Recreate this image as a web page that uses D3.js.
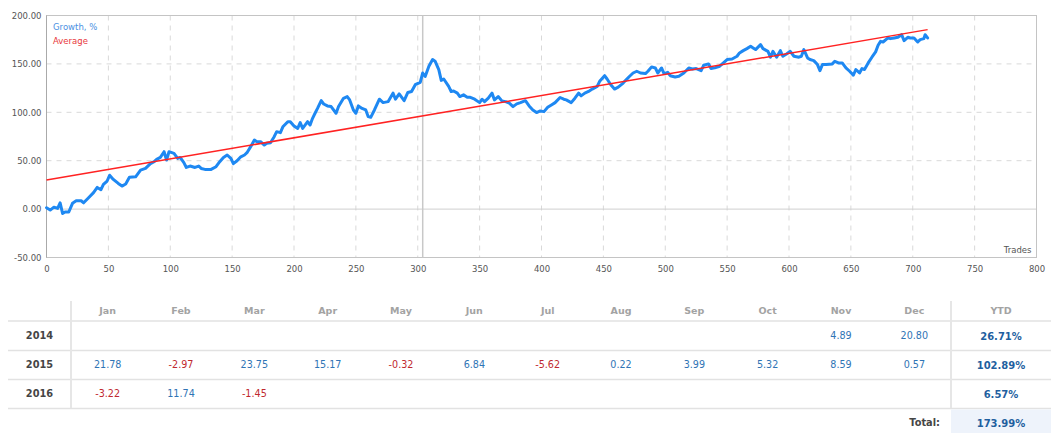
<!DOCTYPE html>
<html><head><meta charset="utf-8">
<script src="https://cdn.jsdelivr.net/npm/d3@7"></script>
<style>
html,body{margin:0;padding:0;background:#fff;}
svg{display:block;font-family:"DejaVu Sans",Verdana,sans-serif;}
</style></head>
<body>
<svg id="c" width="1051" height="433"></svg>
<script>
// ---- data ----
const trades = [0,3,6,9,11,13,15,18,21,24,28,30,34,38,41,44,46,49,51,54,58,61,64,67,72,76,80,84,87,89,92,95,97,99,103,106,108,111,113,116,120,123,125,128,133,137,140,143,146,149,151,154,157,160,162,165,168,170,173,176,178,181,184,186,189,191,195,197,200,203,205,207,211,213,215,217,219,222,224,227,230,234,236,240,243,245,248,250,252,255,258,260,262,265,269,272,276,280,282,285,289,292,295,298,302,304,306,309,312,314,317,319,321,325,327,329,332,334,337,340,342,346,350,352,354,357,360,362,365,368,371,374,377,380,383,387,390,393,396,399,402,405,408,411,415,418,420,424,427,430,432,435,438,441,445,447,451,453,456,459,462,466,468,471,474,477,480,484,486,489,492,494,497,499,502,504,508,511,515,519,522,525,529,531,535,537,540,544,547,550,554,558,560,563,566,569,571,573,577,579,583,585,587,590,593,595,598,601,604,608,610,612,615,617,620,623,625,627,630,635,637,640,643,646,649,652,654,657,659,661,664,667,670,672,674,676,680,682,685,688,691,693,696,698,701,704,706,709,710,712];
const growth = [1.4,-1,2,0.7,6.5,-4.5,-3,-3,6,8.6,8.6,6.5,11.7,17,22.4,20,25.5,29,35,30.7,26.5,23.8,25.9,32.8,33.4,40.3,42,47,49,51.4,53.4,59.3,50.7,59.3,57.6,52.4,53.4,48,43,44.5,43,44.5,42,41,41,43.8,49,53.4,55.9,52.4,47,50,54,55.9,58.3,64.5,71.4,69.7,69.7,66.2,68,68.6,74.8,80,79,85,90.3,90.3,85.9,83.4,89.3,83.4,90.3,86.9,93.8,99,104,112,108.6,106.6,105.9,99,105.9,114.5,116.2,112.8,102.4,99,106.6,104,102.4,95.5,94.8,102.4,113.5,110,111,119.8,113.5,119,112,120.5,121.5,128.5,131,140.6,137,147.6,154.5,152.8,144,133,134.4,126.7,121.5,122,119.8,116.3,118,115.6,115.6,113.5,110,113.5,111,114.6,119.8,112.8,116.3,111.8,111,109.4,105.9,108.7,110,112,106.6,102.4,99.7,101.4,100.7,105.2,107.6,110,115.3,113.5,112.8,110,114.6,119.8,117,119.8,121.5,124,126.7,132,137.8,134.4,128.5,124,126,130.2,133,137,140.6,142.4,140.6,140,142.4,146.9,145.8,140.6,145.8,140,141.3,137.8,136.5,137.2,140.6,145.8,144.8,145.2,143,148.6,150,145.2,145.9,147.6,151,154.5,155.1,157.9,161.3,163.7,165.8,168.2,166.5,164.8,169.9,165.8,163,156.9,163,156.9,163.7,157.9,160.3,163,157.9,156.9,157.9,164.8,156.2,154.5,153.4,149.3,143.1,149.3,149.3,150,152.7,151,151,145.9,142.4,138.3,144.2,140.7,145.2,144.2,151,156.9,162.4,169.2,173.3,172.6,176.8,176.1,176.8,177.5,180.2,174,177.5,176.8,176.8,172.6,175.1,176.1,180.2,176.8];
const averageTrades = [0, 712];
const averageValues = [30, 185.4];
const markerTrade = 304;
const xTicks = [0,50,100,150,200,250,300,350,400,450,500,550,600,650,700,750,800];
const yTicks = [-50,0,50,100,150,200];
const seriesNames = ["Growth, %","Average"];
const xAxisTitle = "Trades";

const months = ["Jan","Feb","Mar","Apr","May","Jun","Jul","Aug","Sep","Oct","Nov","Dec"];
const years = ["2014","2015","2016"];
const values2014 = [null,null,null,null,null,null,null,null,null,null,4.89,20.80];
const values2015 = [21.78,-2.97,23.75,15.17,-0.32,6.84,-5.62,0.22,3.99,5.32,8.59,0.57];
const values2016 = [-3.22,11.74,-1.45,null,null,null,null,null,null,null,null,null];
const ytd = [26.71,102.89,6.57];
const totalLabel = "Total:";
const totalValue = 173.99;

// ---- chart ----
const fmt2 = d => (+d).toFixed(2);
const svg = d3.select("#c");
const x = d3.scaleLinear().domain([0,800]).range([46.5,1036.5]);
const y = d3.scaleLinear().domain([-50,200]).range([257.5,15.5]);
const fs = 8.5;

const g = svg.append("g");
// grid
g.append("g").selectAll("line").data(xTicks.filter(t=>t>0&&t<800)).join("line")
  .attr("x1",d=>x(d)).attr("x2",d=>x(d)).attr("y1",y(200)).attr("y2",y(-50))
  .attr("stroke","#d9d9d9").attr("stroke-dasharray","5,5");
g.append("g").selectAll("line").data(yTicks.filter(t=>t!==0&&t!==-50&&t!==200)).join("line")
  .attr("x1",x(0)).attr("x2",x(800)).attr("y1",d=>y(d)).attr("y2",d=>y(d))
  .attr("stroke","#d9d9d9").attr("stroke-dasharray","5,5");
// zero line
g.append("line").attr("x1",x(0)).attr("x2",x(800)).attr("y1",y(0)).attr("y2",y(0))
  .attr("stroke","#cfcfcf").attr("stroke-width",1);
// border
g.append("rect").attr("x",x(0)).attr("y",y(200)).attr("width",x(800)-x(0)).attr("height",y(-50)-y(200))
  .attr("fill","none").attr("stroke","#c4c4c4");
g.append("line").attr("x1",x(0)).attr("x2",x(0)).attr("y1",y(200)).attr("y2",y(-50)).attr("stroke","#aaa");
// marker line
g.append("line").attr("x1",x(markerTrade)).attr("x2",x(markerTrade)).attr("y1",y(200)).attr("y2",y(-50))
  .attr("stroke","#c8c8c8").attr("stroke-width",1.5);

// axes
const yAxis = d3.axisLeft(y).tickValues(yTicks).tickFormat(fmt2).tickSize(0).tickPadding(5);
const ya = g.append("g").attr("transform",`translate(${x(0)},0)`).call(yAxis);
ya.select(".domain").remove();
ya.selectAll("text").attr("font-size",fs).attr("fill","#555").attr("font-family","DejaVu Sans");
const xAxis = d3.axisBottom(x).tickValues(xTicks).tickFormat(d=>String(d)).tickSize(0).tickPadding(8);
const xa = g.append("g").attr("transform",`translate(0,${y(-50)})`).call(xAxis);
xa.select(".domain").remove();
xa.selectAll("text").attr("font-size",fs).attr("fill","#555").attr("font-family","DejaVu Sans");

// series
const pts = trades.map((t,i)=>[t,growth[i]]);
const line = d3.line().x(d=>x(d[0])).y(d=>y(d[1]));
g.append("path").attr("d",line(pts)).attr("fill","none").attr("stroke","#1e88f2")
  .attr("stroke-width",3).attr("stroke-linejoin","round").attr("stroke-linecap","round");
g.append("path").attr("d",line(averageTrades.map((t,i)=>[t,averageValues[i]])))
  .attr("fill","none").attr("stroke","#ff2222").attr("stroke-width",1.5);

// legend
g.append("text").attr("x",53).attr("y",30).attr("font-size",fs).attr("fill","#4a90e2").text(seriesNames[0]);
g.append("text").attr("x",53).attr("y",44).attr("font-size",fs).attr("fill","#e8383d").text(seriesNames[1]);
g.append("text").attr("x",x(800)-5).attr("y",y(-50)-5).attr("text-anchor","end")
  .attr("font-size",fs).attr("fill","#555").text(xAxisTitle);

// ---- table ----
const t = svg.append("g");
const col = d3.scaleBand().domain(months).range([71,951]);
const rowLines = [321,350.5,379.5,408.5];
t.selectAll("line.h").data(rowLines).join("line").attr("class","h")
  .attr("x1",8).attr("x2",1051).attr("y1",d=>d).attr("y2",d=>d).attr("stroke","#e2e2e2").attr("stroke-width",1.5);
[71,951].forEach(vx=>{
  t.append("line").attr("x1",vx).attr("x2",vx).attr("y1",301).attr("y2",408).attr("stroke","#e6e6e6").attr("stroke-width",2);
});
t.append("rect").attr("x",951).attr("y",409.5).attr("width",100).attr("height",24).attr("fill","#eef3fb");

const cy = {head:311, "2014":336, "2015":365, "2016":394, total:423};
t.selectAll("text.m").data(months).join("text").attr("class","m")
  .attr("x",d=>col(d)+col.bandwidth()/2).attr("y",cy.head).attr("dy","0.35em")
  .attr("text-anchor","middle").attr("font-size",9.5).attr("font-weight","bold").attr("fill","#a3a3a3").text(d=>d);
t.append("text").attr("x",1001).attr("y",cy.head).attr("dy","0.35em").attr("text-anchor","middle")
  .attr("font-size",9.5).attr("font-weight","bold").attr("fill","#a3a3a3").text("YTD");

const rows = [values2014,values2015,values2016];
years.forEach((yr,i)=>{
  t.append("text").attr("x",39.5).attr("y",cy[yr]).attr("dy","0.35em").attr("text-anchor","middle")
    .attr("font-size",9.8).attr("font-weight","bold").attr("fill","#454545").text(yr);
  const cells = months.map((m,j)=>({m,v:rows[i][j]})).filter(d=>d.v!==null);
  t.selectAll(null).data(cells).join("text")
    .attr("x",d=>col(d.m)+col.bandwidth()/2).attr("y",cy[yr]).attr("dy","0.35em").attr("text-anchor","middle")
    .attr("font-size",9.6).attr("fill",d=>d.v<0?"#c0282f":"#2f74b5").text(d=>fmt2(d.v));
  t.append("text").attr("x",1001).attr("y",cy[yr]).attr("dy","0.35em").attr("text-anchor","middle")
    .attr("font-size",10).attr("font-weight","bold").attr("fill","#1f5f9f").text(fmt2(ytd[i])+"%");
});
t.append("text").attr("x",940).attr("y",cy.total).attr("dy","0.35em").attr("text-anchor","end")
  .attr("font-size",9.8).attr("font-weight","bold").attr("fill","#454545").text(totalLabel);
t.append("text").attr("x",1001).attr("y",cy.total).attr("dy","0.35em").attr("text-anchor","middle")
  .attr("font-size",10).attr("font-weight","bold").attr("fill","#1f5f9f").text(fmt2(totalValue)+"%");
</script>
</body></html>
